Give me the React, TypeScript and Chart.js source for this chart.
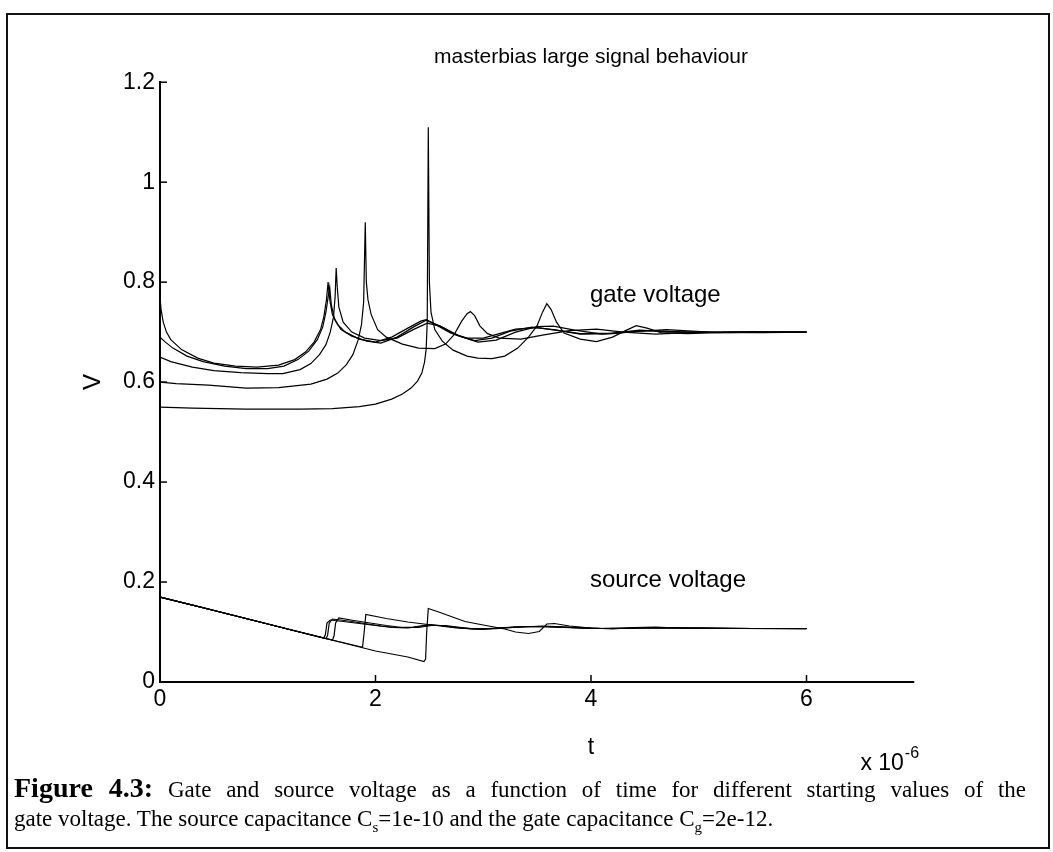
import React, { useEffect, useRef } from "react";
import { Chart, registerables } from "chart.js";

Chart.register(...registerables);

// ---------------- data ----------------
const titleText = "masterbias large signal behaviour";
const xAxisTitle = "t";
const yAxisTitle = "V";
const xExponentBase = "x 10";
const xExponentPower = "-6";
const gateLabel = "gate voltage";
const sourceLabel = "source voltage";

const xTickValues = [0, 2, 4, 6];
const xTickLabels = ["0", "2", "4", "6"];
const yTickValues = [0, 0.2, 0.4, 0.6, 0.8, 1, 1.2];
const yTickLabels = ["0", "0.2", "0.4", "0.6", "0.8", "1", "1.2"];

// gate voltage, five starting values (time in units of 1e-6 s)
const gate1T = [0, 0.01, 0.03, 0.06, 0.1, 0.2, 0.35, 0.5, 0.7, 0.9, 1.1, 1.25, 1.35, 1.43, 1.49, 1.52, 1.545, 1.56, 1.575, 1.6, 1.65, 1.72, 1.85, 2.0, 2.15, 2.3, 2.42, 2.47, 2.55, 2.7, 2.85, 3.0, 3.15, 3.3, 3.5, 3.7, 3.9, 4.2, 4.5, 4.8, 5.2, 5.6, 6.0];
const gate1V = [0.77, 0.745, 0.72, 0.7, 0.685, 0.665, 0.648, 0.638, 0.632, 0.63, 0.634, 0.645, 0.66, 0.68, 0.705, 0.73, 0.765, 0.8, 0.765, 0.735, 0.715, 0.7, 0.686, 0.68, 0.69, 0.708, 0.722, 0.725, 0.716, 0.698, 0.688, 0.688, 0.697, 0.706, 0.709, 0.703, 0.696, 0.697, 0.703, 0.701, 0.699, 0.7, 0.7];

const gate2T = [0, 0.05, 0.12, 0.25, 0.4, 0.6, 0.8, 1.0, 1.15, 1.28, 1.38, 1.46, 1.51, 1.54, 1.56, 1.575, 1.59, 1.62, 1.68, 1.78, 1.92, 2.05, 2.2, 2.35, 2.47, 2.6, 2.75, 2.92, 3.08, 3.25, 3.45, 3.65, 3.9, 4.2, 4.45, 4.8, 5.3, 6.0];
const gate2V = [0.69, 0.68, 0.668, 0.652, 0.641, 0.632, 0.627, 0.627, 0.632, 0.645, 0.662, 0.685, 0.71, 0.74, 0.77, 0.79, 0.755, 0.725, 0.705, 0.692, 0.682, 0.678, 0.69, 0.71, 0.724, 0.712, 0.694, 0.683, 0.688, 0.702, 0.71, 0.705, 0.697, 0.698, 0.704, 0.7, 0.699, 0.7];

const gate3T = [0, 0.1, 0.3, 0.5, 0.75, 1.0, 1.14, 1.3, 1.4, 1.48, 1.54, 1.58, 1.61, 1.625, 1.635, 1.645, 1.66, 1.7, 1.78, 1.9, 2.05, 2.2, 2.35, 2.48, 2.6, 2.78, 2.95, 3.12, 3.3, 3.5, 3.65, 3.85, 4.1, 4.4, 4.7, 5.1, 5.6, 6.0];
const gate3V = [0.65, 0.641, 0.63, 0.623, 0.619, 0.617, 0.617, 0.625, 0.637, 0.655, 0.675, 0.7, 0.73, 0.77, 0.828, 0.79, 0.75, 0.72, 0.7, 0.688, 0.683, 0.688, 0.705, 0.718, 0.712, 0.692, 0.68, 0.684, 0.7, 0.711, 0.712, 0.704, 0.696, 0.701, 0.705, 0.7, 0.699, 0.7];

const gate4T = [0, 0.15, 0.45, 0.8, 1.1, 1.4, 1.55, 1.65, 1.73, 1.79, 1.84, 1.87, 1.89, 1.905, 1.915, 1.93, 1.96, 2.02, 2.1, 2.25, 2.4, 2.55, 2.65, 2.73, 2.8, 2.85, 2.88, 2.92, 2.97, 3.04, 3.15, 3.35, 3.55, 3.8, 4.05, 4.3, 4.6, 5.0, 5.5, 6.0];
const gate4V = [0.6, 0.597, 0.594, 0.588, 0.589, 0.596, 0.606, 0.618, 0.635, 0.655, 0.685, 0.715, 0.76, 0.92, 0.8, 0.765, 0.735, 0.705, 0.69, 0.676, 0.668, 0.667, 0.676, 0.695, 0.722, 0.737, 0.741, 0.733, 0.712, 0.697, 0.688, 0.686, 0.694, 0.703, 0.706, 0.7, 0.696, 0.7, 0.701, 0.7];

const gate5T = [0, 0.3, 0.8, 1.3, 1.6, 1.85, 2.0, 2.15, 2.25, 2.33, 2.39, 2.43, 2.455, 2.47, 2.48, 2.49, 2.5, 2.515, 2.55, 2.62, 2.72, 2.85, 2.95, 3.08, 3.2, 3.32, 3.42, 3.5, 3.55, 3.59, 3.63, 3.68, 3.75, 3.9, 4.05, 4.2, 4.32, 4.42, 4.52, 4.65, 4.9, 5.3, 6.0];
const gate5V = [0.55, 0.548, 0.546, 0.546, 0.547, 0.551, 0.556, 0.566, 0.576, 0.588, 0.602, 0.618, 0.64, 0.665, 0.72, 1.11, 0.8, 0.74, 0.705, 0.682, 0.664, 0.652, 0.648, 0.647, 0.652, 0.668, 0.69, 0.713, 0.74, 0.757, 0.745, 0.72, 0.698, 0.686, 0.681, 0.69, 0.703, 0.713, 0.708, 0.699, 0.697, 0.7, 0.7];

// source voltage, one per gate starting value
const source1T = [0, 0.4, 0.8, 1.2, 1.45, 1.52, 1.535, 1.55, 1.58, 1.7, 1.85, 2.0, 2.15, 2.3, 2.42, 2.5, 2.6, 2.75, 2.9, 3.05, 3.2, 3.4, 3.6, 3.8, 4.0, 4.3, 4.6, 5.0, 5.5, 6.0];
const source1V = [0.17, 0.149, 0.127, 0.105, 0.092, 0.088, 0.095, 0.118, 0.124, 0.121, 0.117, 0.113, 0.109, 0.108, 0.111, 0.115, 0.113, 0.109, 0.106, 0.107, 0.109, 0.111, 0.111, 0.109, 0.107, 0.107, 0.109, 0.108, 0.107, 0.107];

const source2T = [0, 0.5, 1.0, 1.4, 1.54, 1.555, 1.57, 1.6, 1.75, 1.9, 2.05, 2.2, 2.35, 2.47, 2.6, 2.8, 2.95, 3.1, 3.3, 3.5, 3.75, 4.0, 4.4, 4.8, 5.3, 6.0];
const source2V = [0.17, 0.143, 0.116, 0.094, 0.087, 0.093, 0.117, 0.126, 0.122, 0.117, 0.112, 0.109, 0.11, 0.114, 0.113, 0.108, 0.106, 0.107, 0.11, 0.111, 0.109, 0.107, 0.108, 0.108, 0.107, 0.107];

const source3T = [0, 0.5, 1.0, 1.5, 1.6, 1.615, 1.63, 1.66, 1.8, 1.95, 2.1, 2.25, 2.4, 2.52, 2.65, 2.8, 2.98, 3.15, 3.35, 3.55, 3.8, 4.1, 4.5, 5.0, 5.5, 6.0];
const source3V = [0.17, 0.143, 0.116, 0.089, 0.084, 0.092, 0.118, 0.128, 0.123, 0.118, 0.113, 0.109, 0.109, 0.113, 0.113, 0.109, 0.105, 0.107, 0.11, 0.112, 0.11, 0.107, 0.108, 0.108, 0.107, 0.107];

const source4T = [0, 0.5, 1.0, 1.5, 1.85, 1.88, 1.895, 1.91, 2.1, 2.3, 2.45, 2.6, 2.75, 2.9, 3.1, 3.3, 3.5, 3.8, 4.1, 4.5, 5.0, 5.5, 6.0];
const source4V = [0.17, 0.143, 0.116, 0.089, 0.071, 0.07, 0.1, 0.135, 0.127, 0.12, 0.116, 0.112, 0.108, 0.106, 0.107, 0.11, 0.111, 0.109, 0.107, 0.108, 0.108, 0.107, 0.107];

const source5T = [0, 0.5, 1.0, 1.5, 2.0, 2.3, 2.45, 2.465, 2.475, 2.49, 2.6, 2.83, 3.0, 3.2, 3.3, 3.42, 3.52, 3.59, 3.66, 3.8, 4.0, 4.2, 4.4, 4.6, 4.9, 5.4, 6.0];
const source5V = [0.17, 0.143, 0.116, 0.089, 0.062, 0.05, 0.041, 0.046, 0.1, 0.147, 0.139, 0.121, 0.114, 0.106, 0.1, 0.097, 0.101, 0.116, 0.117, 0.112, 0.108, 0.106, 0.109, 0.11, 0.107, 0.107, 0.106];

// ---------------- styling ----------------
const SANS = "'Liberation Sans', Arial, Helvetica, sans-serif";
const SERIF = "'Liberation Serif', 'Times New Roman', serif";
const INK = "#000";

const toPoints = (t: number[], v: number[]) => t.map((x, i) => ({ x, y: v[i] }));

const seriesList = [
  { label: "gate 1", t: gate1T, v: gate1V },
  { label: "gate 2", t: gate2T, v: gate2V },
  { label: "gate 3", t: gate3T, v: gate3V },
  { label: "gate 4", t: gate4T, v: gate4V },
  { label: "gate 5", t: gate5T, v: gate5V },
  { label: "source 1", t: source1T, v: source1V },
  { label: "source 2", t: source2T, v: source2V },
  { label: "source 3", t: source3T, v: source3V },
  { label: "source 4", t: source4T, v: source4V },
  { label: "source 5", t: source5T, v: source5V },
];

const decorPlugin = {
  id: "matlabDecor",
  afterDraw(chart: any) {
    const { ctx, chartArea } = chart;
    const xs = chart.scales.x;
    const ys = chart.scales.y;
    ctx.save();
    ctx.strokeStyle = INK;
    ctx.fillStyle = INK;
    // x axis line (data range 0..7)
    ctx.lineWidth = 2;
    ctx.beginPath();
    ctx.moveTo(xs.getPixelForValue(0) - 1, chartArea.bottom);
    ctx.lineTo(xs.getPixelForValue(7), chartArea.bottom);
    ctx.stroke();
    // inward ticks
    ctx.lineWidth = 1.5;
    xTickValues.forEach((v) => {
      const px = xs.getPixelForValue(v);
      ctx.beginPath();
      ctx.moveTo(px, chartArea.bottom);
      ctx.lineTo(px, chartArea.bottom - 7);
      ctx.stroke();
    });
    yTickValues.forEach((v) => {
      const py = ys.getPixelForValue(v);
      ctx.beginPath();
      ctx.moveTo(chartArea.left, py);
      ctx.lineTo(chartArea.left + 7, py);
      ctx.stroke();
    });
    // curve labels
    ctx.font = `24px ${SANS}`;
    ctx.textAlign = "left";
    ctx.textBaseline = "alphabetic";
    ctx.fillText(gateLabel, xs.getPixelForValue(3.99), ys.getPixelForValue(0.76));
    ctx.fillText(sourceLabel, xs.getPixelForValue(3.99), ys.getPixelForValue(0.19));
    // x 10^-6
    ctx.font = `23px ${SANS}`;
    const bx = xs.getPixelForValue(6.5);
    const by = chartArea.bottom + 88;
    ctx.fillText(xExponentBase, bx, by);
    const w = ctx.measureText(xExponentBase).width;
    ctx.font = `16px ${SANS}`;
    ctx.fillText(xExponentPower, bx + w + 1, by - 12);
    ctx.restore();
  },
};

export default function App() {
  const canvasRef = useRef<HTMLCanvasElement | null>(null);

  useEffect(() => {
    if (!canvasRef.current) return;
    const chart = new Chart(canvasRef.current, {
      type: "scatter",
      data: {
        datasets: seriesList.map((s) => ({
          label: s.label,
          data: toPoints(s.t, s.v),
          showLine: true,
          borderColor: INK,
          backgroundColor: INK,
          borderWidth: 1.2,
          pointRadius: 0,
          tension: 0,
        })),
      },
      options: {
        responsive: false,
        animation: false,
        events: [],
        layout: { padding: { left: 20, right: 31, top: 0, bottom: 80 } },
        plugins: {
          legend: { display: false },
          tooltip: { enabled: false },
          title: {
            display: true,
            text: titleText,
            fullSize: false,
            color: INK,
            font: { family: SANS, size: 21, weight: "normal", lineHeight: 1.2 },
            padding: { top: 45, bottom: 12 },
          },
        },
        scales: {
          x: {
            type: "linear",
            min: 0,
            max: 8,
            border: { display: false },
            grid: { display: false, drawTicks: false },
            ticks: {
              color: INK,
              padding: 4,
              font: { family: SANS, size: 23 },
              callback: (value: any) => {
                const i = xTickValues.indexOf(Number(value));
                return i >= 0 ? xTickLabels[i] : "";
              },
            },
            afterBuildTicks: (scale: any) => {
              scale.ticks = xTickValues.map((v) => ({ value: v }));
            },
            afterFit: (scale: any) => {
              scale.height = 90;
            },
            title: {
              display: true,
              text: xAxisTitle,
              color: INK,
              font: { family: SANS, size: 23 },
              padding: { top: 0, bottom: 11 },
            },
          },
          y: {
            type: "linear",
            min: 0,
            max: 1.2,
            border: { display: true, color: INK, width: 2 },
            grid: { display: false, drawTicks: false },
            ticks: {
              color: INK,
              padding: 5,
              font: { family: SANS, size: 23 },
              callback: (value: any) => {
                const i = yTickValues.findIndex((v) => Math.abs(v - Number(value)) < 1e-9);
                return i >= 0 ? yTickLabels[i] : "";
              },
            },
            afterBuildTicks: (scale: any) => {
              scale.ticks = yTickValues.map((v) => ({ value: v }));
            },
            afterFit: (scale: any) => {
              scale.width = 140;
            },
            title: {
              display: true,
              text: yAxisTitle,
              color: INK,
              font: { family: SANS, size: 24 },
              padding: { top: 59, bottom: 0 },
            },
          },
        },
      },
      plugins: [decorPlugin],
    } as any);
    return () => chart.destroy();
  }, []);

  const subStyle = { fontSize: "0.65em", lineHeight: 0 } as const;

  return (
    <div style={{ position: "absolute", left: 0, top: 0, width: 1053, height: 852, background: "#fff", overflow: "hidden" }}>
      <div
        style={{
          position: "absolute",
          left: 6,
          top: 13,
          width: 1044,
          height: 836,
          border: "2px solid #111",
          boxSizing: "border-box",
        }}
      />
      <canvas ref={canvasRef} width={1053} height={852} style={{ position: "absolute", left: 0, top: 0 }} />
      <div
        style={{
          position: "absolute",
          left: 14,
          top: 773,
          width: 1012,
          fontFamily: SERIF,
          fontSize: 23,
          color: INK,
        }}
      >
        <div style={{ textAlign: "justify", textAlignLast: "justify", lineHeight: "29px" }}>
          <b style={{ fontSize: 28 }}>Figure 4.3:</b> Gate and source voltage as a function of time for different starting values of the
        </div>
        <div style={{ lineHeight: "29px" }}>
          gate voltage. The source capacitance C<sub style={subStyle}>s</sub>=1e-10 and the gate capacitance C<sub style={subStyle}>g</sub>=2e-12.
        </div>
      </div>
    </div>
  );
}
